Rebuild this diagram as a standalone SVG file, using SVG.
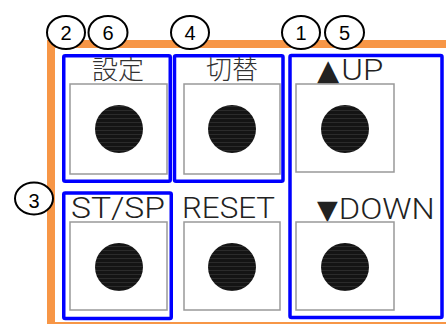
<svg xmlns="http://www.w3.org/2000/svg" width="446" height="324" viewBox="0 0 446 324">
<style>
.panel{fill:#fff;stroke:#F79646;stroke-width:8}
.grp{fill:none;stroke:#0000FF;stroke-width:3.5}
.key{fill:#fff;stroke:#999;stroke-width:1.5}
.btn{fill:url(#scan)}
.lbl{font-family:Roboto,"Liberation Sans",sans-serif;font-weight:300;font-size:29px;fill:#222}
.sym{font-family:"DejaVu Sans",sans-serif;font-weight:400;font-size:29px}
.jp{font-family:"Noto Sans CJK JP",sans-serif;font-weight:300;font-size:26px;fill:#333;text-anchor:middle}
.num ellipse{fill:#fff;stroke:#000;stroke-width:2}
.num text{font-family:"Liberation Sans",sans-serif;font-size:20px;fill:#000;text-anchor:middle}
</style>
<defs>
<pattern id="scan" patternUnits="userSpaceOnUse" width="4" height="4">
<rect width="4" height="4" fill="#141414"/>
<rect y="2" width="4" height="1" fill="#2b2b2b"/>
</pattern>
</defs>
<rect width="446" height="324" fill="#fff"/>
<rect id="panel" class="panel" x="51" y="44" width="430" height="282"/>

<g id="group-settei"><rect class="grp" x="63.75" y="55.75" width="106.5" height="125.5" rx="1.5"/></g>
<g id="group-kirikae"><rect class="grp" x="174.5" y="55.75" width="108.5" height="125.5" rx="1.5"/></g>
<g id="group-updown"><rect class="grp" x="290" y="55.5" width="152" height="262" rx="1.5"/></g>
<g id="group-stsp"><rect class="grp" x="63.75" y="193" width="107.5" height="125.5" rx="1.5"/></g>

<g id="key-settei">
<text class="jp" x="118" y="79">設定</text>
<rect class="key" x="70" y="84" width="97" height="90"/>
<circle class="btn" cx="119" cy="129" r="24"/>
</g>
<g id="key-kirikae">
<text class="jp" x="232" y="79">切替</text>
<rect class="key" x="184" y="84" width="96" height="90"/>
<circle class="btn" cx="232" cy="129" r="24"/>
</g>
<g id="key-up">
<text class="lbl" x="317" y="80"><tspan class="sym">▲</tspan><tspan dx="2" textLength="42" lengthAdjust="spacingAndGlyphs">UP</tspan></text>
<rect class="key" x="296" y="84" width="98" height="88"/>
<circle class="btn" cx="345" cy="129" r="24"/>
</g>
<g id="key-stsp">
<text class="lbl" x="71" y="218" textLength="94" lengthAdjust="spacingAndGlyphs">ST/SP</text>
<rect class="key" x="70" y="222" width="97" height="88"/>
<circle class="btn" cx="119" cy="267" r="24"/>
</g>
<g id="key-reset">
<text class="lbl" x="182" y="218" textLength="93" lengthAdjust="spacingAndGlyphs">RESET</text>
<rect class="key" x="184" y="222" width="96" height="88"/>
<circle class="btn" cx="232" cy="267" r="24"/>
</g>
<g id="key-down">
<text class="lbl" x="317" y="218.5"><tspan class="sym" style="font-size:27px">▼</tspan><tspan dx="1" textLength="96" lengthAdjust="spacingAndGlyphs">DOWN</tspan></text>
<rect class="key" x="296" y="222" width="98" height="88"/>
<circle class="btn" cx="345" cy="267" r="24"/>
</g>

<g id="callout-2" class="num"><ellipse cx="66" cy="32.5" rx="19" ry="16.5"/><text x="66" y="39.5">2</text></g>
<g id="callout-6" class="num"><ellipse cx="108" cy="32.5" rx="19.5" ry="16.5"/><text x="108" y="39.5">6</text></g>
<g id="callout-4" class="num"><ellipse cx="190" cy="32.5" rx="19" ry="16.5"/><text x="190" y="39.5">4</text></g>
<g id="callout-1" class="num"><ellipse cx="301" cy="32.5" rx="19" ry="16.5"/><text x="301" y="39.5">1</text></g>
<g id="callout-5" class="num"><ellipse cx="344.5" cy="32.5" rx="19.5" ry="16.5"/><text x="344.5" y="39.5">5</text></g>
<g id="callout-3" class="num"><ellipse cx="34" cy="198.5" rx="19" ry="16"/><text x="34" y="208">3</text></g>

<g id="connectors"/>
</svg>
